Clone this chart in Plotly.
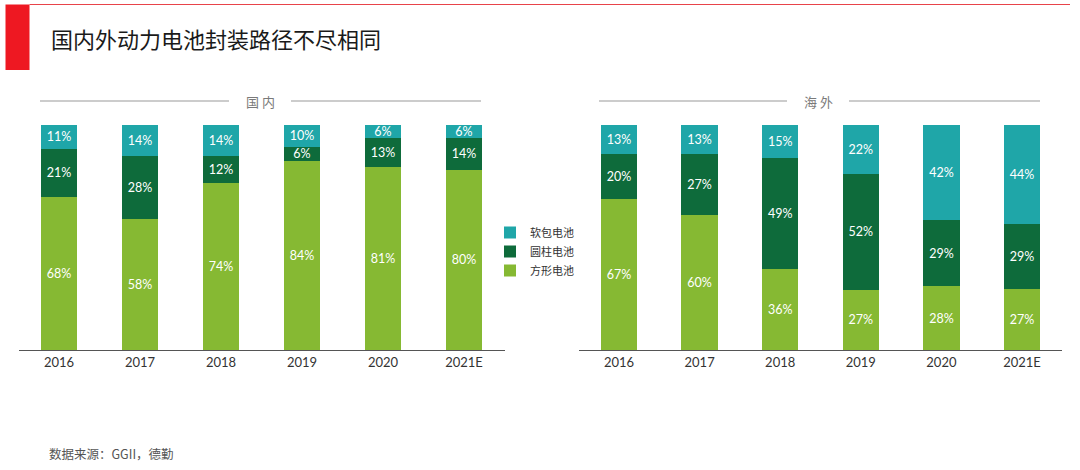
import plotly.graph_objects as go

W, H = 1080, 470

years = ["2016", "2017", "2018", "2019", "2020", "2021E"]
series_names = ["方形电池", "圆柱电池", "软包电池"]
colors = ["#86B933", "#0E6B3B", "#1FA6A8"]

domestic_prismatic = [68, 58, 74, 84, 81, 80]
domestic_cylindrical = [21, 28, 12, 6, 13, 14]
domestic_pouch = [11, 14, 14, 10, 6, 6]

overseas_prismatic = [67, 60, 36, 27, 28, 27]
overseas_cylindrical = [20, 27, 49, 52, 29, 29]
overseas_pouch = [13, 13, 15, 22, 42, 44]

title_text = "国内外动力电池封装路径不尽相同"
panel_titles = ["国 内", "海 外"]
source_text = "数据来源：GGII，德勤"

NUM_FONT = "Lato, 'Noto Sans', sans-serif"
CJK_FONT = "'Noto Sans CJK SC', sans-serif"

fig = go.Figure()

domestic = [domestic_prismatic, domestic_cylindrical, domestic_pouch]
overseas = [overseas_prismatic, overseas_cylindrical, overseas_pouch]

for i, name in enumerate(series_names):
    for j, (vals, xa, ya) in enumerate([(domestic[i], "x", "y"), (overseas[i], "x2", "y2")]):
        fig.add_trace(go.Bar(
            x=years, y=vals, name=name, xaxis=xa, yaxis=ya,
            text=vals, texttemplate="%{text}%",
            marker=dict(color=colors[i], line=dict(width=0)),
            textposition="inside",
            insidetextanchor="middle",
            textfont=dict(color="white", size=12.5, family=NUM_FONT),
            showlegend=(j == 0), legendgroup=name,
            hoverinfo="skip",
        ))

def px(x):
    return x / W

def py(y):
    return 1 - y / H

ydom = [py(350), py(124.5)]
axis_common = dict(showgrid=False, zeroline=False, showline=True, linecolor="#555555",
                   linewidth=1, ticks="", tickfont=dict(size=13, color="#333333", family=NUM_FONT),
                   fixedrange=True)
fig.update_layout(
    width=W, height=H,
    margin=dict(l=0, r=0, t=0, b=0),
    paper_bgcolor="white", plot_bgcolor="white",
    barmode="stack", barnorm="percent", bargap=0.547,
    uniformtext=dict(minsize=12.5, mode="show"),
    xaxis=dict(domain=[px(18.5), px(504.5)], anchor="y", **axis_common),
    xaxis2=dict(domain=[px(578.7), px(1062.3)], anchor="y2", **axis_common),
    yaxis=dict(domain=ydom, range=[0, 100], visible=False, fixedrange=True),
    yaxis2=dict(domain=ydom, range=[0, 100], visible=False, fixedrange=True),
    legend=dict(x=px(490), y=py(218), xanchor="left", yanchor="top",
                traceorder="reversed", font=dict(size=11, color="#333333", family=CJK_FONT),
                bgcolor="rgba(0,0,0,0)", itemclick=False, itemdoubleclick=False),
    showlegend=True,
)

shapes = []
# red header block and top rule
shapes.append(dict(type="rect", xref="paper", yref="paper", x0=px(5.5), x1=px(29.5), y0=py(70), y1=py(4.5),
                   fillcolor="#EE1822", line=dict(width=0)))
shapes.append(dict(type="line", xref="paper", yref="paper", x0=px(29.5), x1=px(1070), y0=py(4.5), y1=py(4.5),
                   line=dict(color="#E8434A", width=1)))
# panel header lines
for (a, b) in [(40, 229), (291, 481), (599, 787), (849, 1040)]:
    shapes.append(dict(type="line", xref="paper", yref="paper", x0=px(a), x1=px(b), y0=py(101), y1=py(101),
                       line=dict(color="#9A9A9A", width=1.2)))
fig.update_layout(shapes=shapes)

annotations = [
    dict(text=title_text, xref="paper", yref="paper", x=px(49), y=py(38), xanchor="left", yanchor="middle",
         showarrow=False, font=dict(size=22, color="#1A1A1A", family=CJK_FONT)),
    dict(text=panel_titles[0], xref="paper", yref="paper", x=px(260), y=py(101), xanchor="center", yanchor="middle",
         showarrow=False, font=dict(size=13, color="#7A7A7A", family=CJK_FONT)),
    dict(text=panel_titles[1], xref="paper", yref="paper", x=px(818), y=py(101), xanchor="center", yanchor="middle",
         showarrow=False, font=dict(size=13, color="#7A7A7A", family=CJK_FONT)),
    dict(text=source_text, xref="paper", yref="paper", x=px(47), y=py(453), xanchor="left", yanchor="middle",
         showarrow=False, font=dict(size=12.5, color="#555555", family=CJK_FONT)),
]
fig.update_layout(annotations=annotations)

fig.write_html("out.html", config=dict(displayModeBar=False),
               post_script="document.body.style.margin='0';document.body.style.overflow='hidden';")
